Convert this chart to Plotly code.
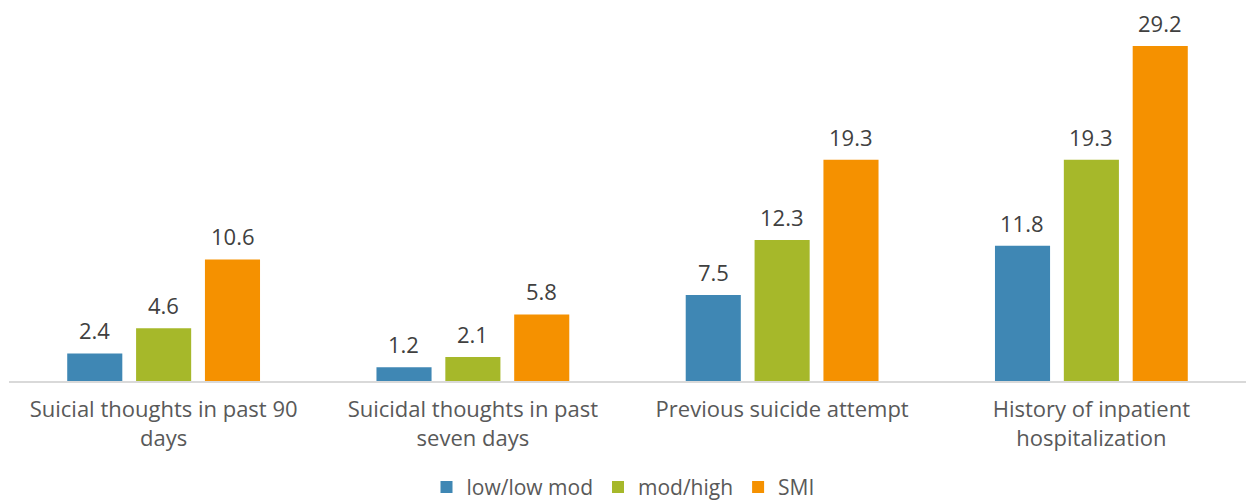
import plotly.graph_objects as go

categories = ["Suicial thoughts in past 90<br>days", "Suicidal thoughts in past<br>seven days",
              "Previous suicide attempt", "History of inpatient<br>hospitalization"]
series_names = ["low/low mod", "mod/high", "SMI"]
low_vals = [2.4, 1.2, 7.5, 11.8]
mod_vals = [4.6, 2.1, 12.3, 19.3]
smi_vals = [10.6, 5.8, 19.3, 29.2]
colors = ["#3F87B4", "#A6B82A", "#F59100"]

FONT = "Open Sans"
fig = go.Figure()
all_vals = [low_vals, mod_vals, smi_vals]
for name, vals, col in zip(series_names, all_vals, colors):
    fig.add_trace(go.Bar(x=categories, y=vals, name=name, marker=dict(color=col, line=dict(width=0))))

shifts = [-69, 0, 69]
for vals, sh in zip(all_vals, shifts):
    for c, v in zip(categories, vals):
        fig.add_annotation(x=c, y=v, text=f"{v:.1f}", showarrow=False, xshift=sh, yshift=6,
                           yanchor="bottom", font=dict(family=FONT, size=22, color="#404040"))

fig.update_layout(
    width=1246, height=500,
    margin=dict(l=9, r=0, t=14, b=119, autoexpand=False),
    paper_bgcolor="white", plot_bgcolor="white",
    barmode="group", bargap=0.332, bargroupgap=0.2,
    font=dict(family=FONT, size=22, color="#595959"),
    showlegend=True,
    legend=dict(orientation="h", x=0.5, xanchor="center", xref="container",
                y=-0.29, yanchor="middle",
                font=dict(family=FONT, size=21, color="#595959"), itemwidth=30,
                tracegroupgap=0),
    xaxis=dict(showline=True, linecolor="#D9D9D9", linewidth=1.5, ticks="", automargin=False,
               tickfont=dict(family=FONT, size=22, color="#595959"), ticklabelstandoff=8),
    yaxis=dict(range=[0, 32], visible=False, showgrid=False, zeroline=False, automargin=False),
)
fig.write_html("out.html")
